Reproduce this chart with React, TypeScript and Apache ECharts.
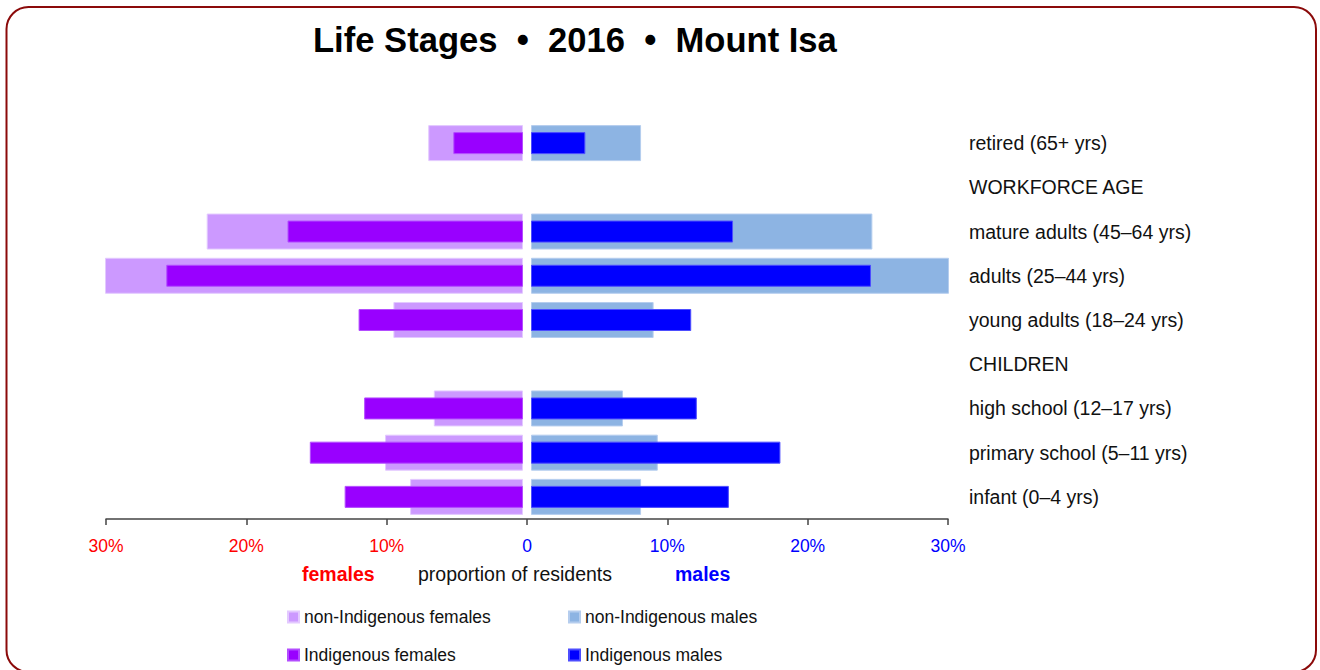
import React, { useEffect, useRef } from "react";
import * as echarts from "echarts";

const categories = [
  "infant (0–4 yrs)",
  "primary school (5–11 yrs)",
  "high school (12–17 yrs)",
  "CHILDREN",
  "young adults (18–24 yrs)",
  "adults (25–44 yrs)",
  "mature adults (45–64 yrs)",
  "WORKFORCE AGE",
  "retired (65+ yrs)",
];
const femNonIndigenous = [8.1, 9.9, 6.4, null, 9.3, 30.0, 22.7, null, 6.8];
const femIndigenous = [12.8, 15.3, 11.4, null, 11.8, 25.6, 16.9, null, 5.0];
const maleNonIndigenous = [7.9, 9.1, 6.6, null, 8.8, 30.0, 24.5, null, 7.9];
const maleIndigenous = [14.2, 17.9, 11.9, null, 11.5, 24.4, 14.5, null, 3.9];
const seriesNames = [
  "non-Indigenous females",
  "Indigenous females",
  "non-Indigenous males",
  "Indigenous males",
];
const FONT = "'Liberation Sans', Arial, Helvetica, sans-serif";

export default function App() {
  const ref = useRef<HTMLDivElement>(null);
  useEffect(() => {
    if (!ref.current) return;
    const chart = echarts.init(ref.current, undefined, { renderer: "svg" });
    const hiddenCat = (gridIndex: number) => ({
      type: "category",
      gridIndex,
      data: categories,
      show: false,
    });
    const legendPos = [
      [287, 607],
      [287, 645],
      [568, 607],
      [568, 645],
    ];
    const option: any = {
      animation: false,
      backgroundColor: "#ffffff",
      textStyle: { fontFamily: FONT },
      title: {
        text: "Life Stages  •  2016  •  Mount Isa",
        left: 308,
        top: 17,
        textStyle: { fontSize: 34.6, fontWeight: "bold", color: "#000", fontFamily: FONT },
      },
      legend: seriesNames.map((name, i) => ({
        left: legendPos[i][0],
        top: legendPos[i][1],
        padding: 0,
        itemWidth: 11,
        itemHeight: 11,
        itemGap: 0,
        icon: "rect",
        selectedMode: false,
        data: [name],
        textStyle: { fontSize: 17.5, color: "#111", lineHeight: 20 },
      })),
      grid: [
        { left: 105, top: 121, width: 418, height: 398 },
        { left: 531, top: 121, width: 418, height: 398 },
        { left: 106, top: 121, width: 842, height: 398 },
      ],
      xAxis: [
        { type: "value", gridIndex: 0, min: 0, max: 30, inverse: true, show: false },
        { type: "value", gridIndex: 1, min: 0, max: 30, show: false },
        {
          type: "value",
          gridIndex: 2,
          min: -30,
          max: 30,
          interval: 10,
          splitLine: { show: false },
          axisLine: { show: true, lineStyle: { color: "#444", width: 1.5 } },
          axisTick: { show: true, length: 6, lineStyle: { color: "#444", width: 1.5 } },
          axisLabel: {
            margin: 18,
            fontSize: 17.5,
            formatter: (v: number) =>
              v < 0 ? `{f|${-v}%}` : v === 0 ? "{m|0}" : `{m|${v}%}`,
            rich: {
              f: { color: "#ff0000", fontSize: 17.5, fontFamily: FONT },
              m: { color: "#0000ff", fontSize: 17.5, fontFamily: FONT },
            },
          },
        },
      ],
      yAxis: [
        hiddenCat(0),
        hiddenCat(0),
        {
          type: "category",
          gridIndex: 1,
          data: categories,
          position: "right",
          axisLine: { show: false },
          axisTick: { show: false },
          axisLabel: { margin: 20, fontSize: 19.5, color: "#111", align: "left" },
        },
        hiddenCat(1),
        { type: "value", gridIndex: 2, min: 0, max: 1, show: false },
      ],
      series: [
        {
          name: seriesNames[0],
          type: "bar",
          xAxisIndex: 0,
          yAxisIndex: 0,
          data: femNonIndigenous,
          barWidth: 36,
          itemStyle: { color: "#cc99ff", borderColor: "#e3c9ff", borderWidth: 1 },
        },
        {
          name: seriesNames[1],
          type: "bar",
          xAxisIndex: 0,
          yAxisIndex: 1,
          data: femIndigenous,
          barWidth: 22,
          itemStyle: { color: "#9900ff", borderColor: "#b34dff", borderWidth: 1 },
        },
        {
          name: seriesNames[2],
          type: "bar",
          xAxisIndex: 1,
          yAxisIndex: 2,
          data: maleNonIndigenous,
          barWidth: 36,
          itemStyle: { color: "#8db4e3", borderColor: "#b5cdee", borderWidth: 1 },
        },
        {
          name: seriesNames[3],
          type: "bar",
          xAxisIndex: 1,
          yAxisIndex: 3,
          data: maleIndigenous,
          barWidth: 22,
          itemStyle: { color: "#0000ff", borderColor: "#4d4dff", borderWidth: 1 },
        },
      ],
      graphic: [
        {
          type: "rect",
          shape: { x: 6.5, y: 7, width: 1309.5, height: 665, r: 22 },
          style: { fill: "none", stroke: "#8b0a0a", lineWidth: 2 },
          silent: true,
        },
        {
          type: "text",
          left: 302,
          top: 564,
          style: { text: "females", fill: "#ff0000", font: `bold 19.5px ${FONT}` },
        },
        {
          type: "text",
          left: 418,
          top: 564,
          style: { text: "proportion of residents", fill: "#111", font: `19.5px ${FONT}` },
        },
        {
          type: "text",
          left: 675,
          top: 564,
          style: { text: "males", fill: "#0000ff", font: `bold 19.5px ${FONT}` },
        },
      ],
    };
    chart.setOption(option);
    return () => chart.dispose();
  }, []);
  return (
    <div
      ref={ref}
      style={{ position: "fixed", left: 0, top: 0, width: 1320, height: 670 }}
    />
  );
}
